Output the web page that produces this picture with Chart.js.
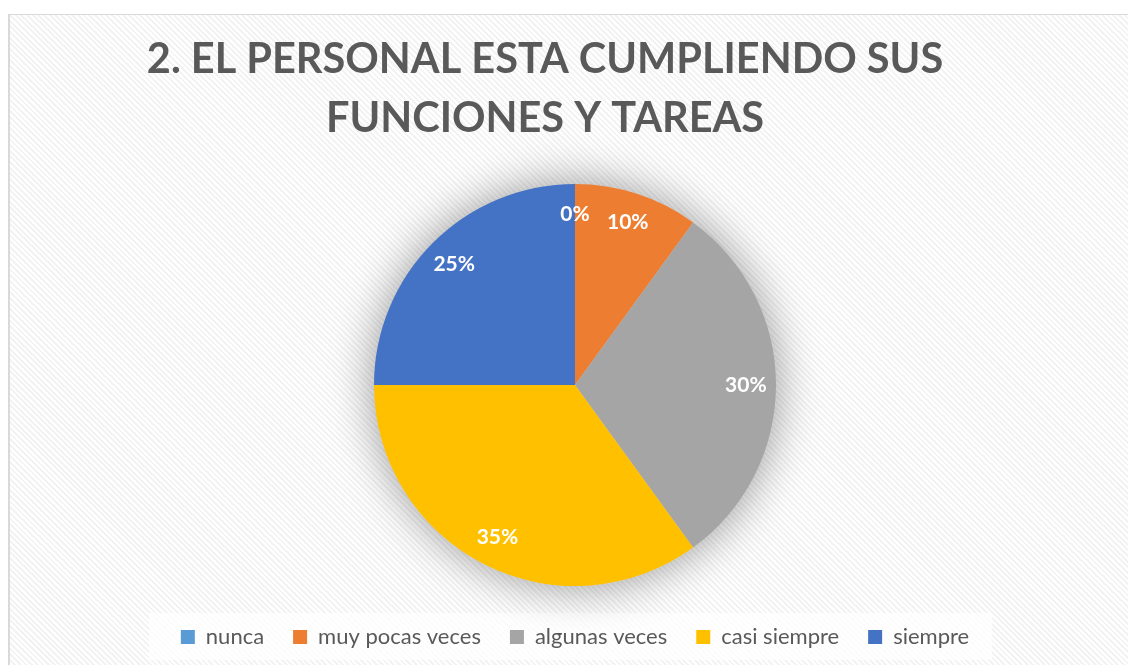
<!DOCTYPE html>
<html>
<head>
<meta charset="utf-8">
<script src="https://cdn.jsdelivr.net/npm/chart.js"></script>
<style>
html, body { margin: 0; padding: 0; background: #fff; overflow: hidden; }
#frame {
    position: absolute; left: 8px; top: 14px; width: 1200px; height: 700px;
    border-left: 2px solid #d9d9d9; border-top: 1px solid #d9d9d9;
    background: repeating-linear-gradient(45deg, #ffffff 0, #ffffff 2px, #f3f3f3 2px, #f3f3f3 4px);
}
#wrap { position: absolute; left: 0; top: 0; width: 1128px; height: 665px; }
</style>
</head>
<body>
<div id="frame"></div>
<div id="wrap"><canvas id="graph_container"></canvas></div>
<script>
var titleLines = ['2. EL PERSONAL ESTA CUMPLIENDO SUS', 'FUNCIONES Y TAREAS'];
var categories = ['nunca', 'muy pocas veces', 'algunas veces', 'casi siempre', 'siempre'];
var percentages = [0, 10, 30, 35, 25];
var sliceColors = ['#5B9BD5', '#ED7D31', '#A5A5A5', '#FFC000', '#4472C4'];

// soft grey halo behind the pie
var pieShadow = {
    id: 'pieShadow',
    beforeDatasetsDraw: function(chart){
        var arc = chart.getDatasetMeta(0).data[0];
        if(!arc) return;
        var p = arc.getProps(['x', 'y', 'outerRadius'], true);
        var ctx = chart.ctx;
        ctx.save();
        ctx.shadowColor = 'rgba(0,0,0,0.4)';
        ctx.shadowBlur = 45;
        ctx.fillStyle = '#d0d0d0';
        ctx.beginPath();
        ctx.arc(p.x, p.y, p.outerRadius, 0, Math.PI * 2);
        ctx.fill();
        ctx.restore();
    }
};

// white box behind the legend
var legendBox = {
    id: 'legendBox',
    beforeDraw: function(chart){
        var lg = chart.legend;
        if(!lg || !lg.legendHitBoxes.length) return;
        var hb = lg.legendHitBoxes;
        var l = hb[0].left, r = hb[hb.length - 1].left + hb[hb.length - 1].width;
        var cy = hb[0].top + hb[0].height / 2;
        var ctx = chart.ctx;
        ctx.save();
        ctx.fillStyle = 'rgba(255,255,255,0.75)';
        ctx.fillRect(l - 32, cy - 24, r - l + 55, 47);
        ctx.restore();
    }
};

// percentage labels inside slices
var sliceLabels = {
    id: 'sliceLabels',
    afterDatasetsDraw: function(chart){
        var ctx = chart.ctx;
        var meta = chart.getDatasetMeta(0);
        ctx.save();
        ctx.fillStyle = '#ffffff';
        ctx.font = 'bold 21px Lato';
        ctx.textAlign = 'center';
        ctx.textBaseline = 'middle';
        for(var i = 0; i < meta.data.length; i++){
            var p = meta.data[i].getProps(['x', 'y', 'startAngle', 'endAngle', 'outerRadius'], true);
            var a = (p.startAngle + p.endAngle) / 2;
            var r = p.outerRadius * 0.85;
            ctx.fillText(percentages[i] + '%', p.x + Math.cos(a) * r, p.y + Math.sin(a) * r);
        }
        ctx.restore();
    }
};

// two line title, slightly left of the pie centre
var bigTitle = {
    id: 'bigTitle',
    afterDraw: function(chart){
        var ctx = chart.ctx;
        ctx.save();
        ctx.fillStyle = '#595959';
        ctx.font = 'bold 41.5px Lato';
        ctx.textAlign = 'center';
        ctx.textBaseline = 'alphabetic';
        ctx.fillText(titleLines[0], 545, 73);
        ctx.fillText(titleLines[1], 545, 132);
        ctx.restore();
    }
};

var ctx = document.getElementById('graph_container').getContext('2d');
var myChart = new Chart(ctx, {
    type: 'pie',
    data: {
        labels: categories,
        datasets: [{
            data: percentages,
            backgroundColor: sliceColors,
            borderWidth: 0
        }]
    },
    options: {
        responsive: true,
        maintainAspectRatio: false,
        animation: false,
        layout: { padding: { top: 184, left: 22, right: 0, bottom: 7 } },
        plugins: {
            tooltip: { enabled: false },
            legend: {
                position: 'bottom',
                title: { display: true, text: '', padding: 0, font: { size: 11, lineHeight: 1 } },
                labels: {
                    boxWidth: 14,
                    boxHeight: 14,
                    padding: 29,
                    color: '#595959',
                    font: { family: 'Lato', size: 22 }
                }
            }
        }
    },
    plugins: [pieShadow, legendBox, sliceLabels, bigTitle]
});
</script>
</body>
</html>
